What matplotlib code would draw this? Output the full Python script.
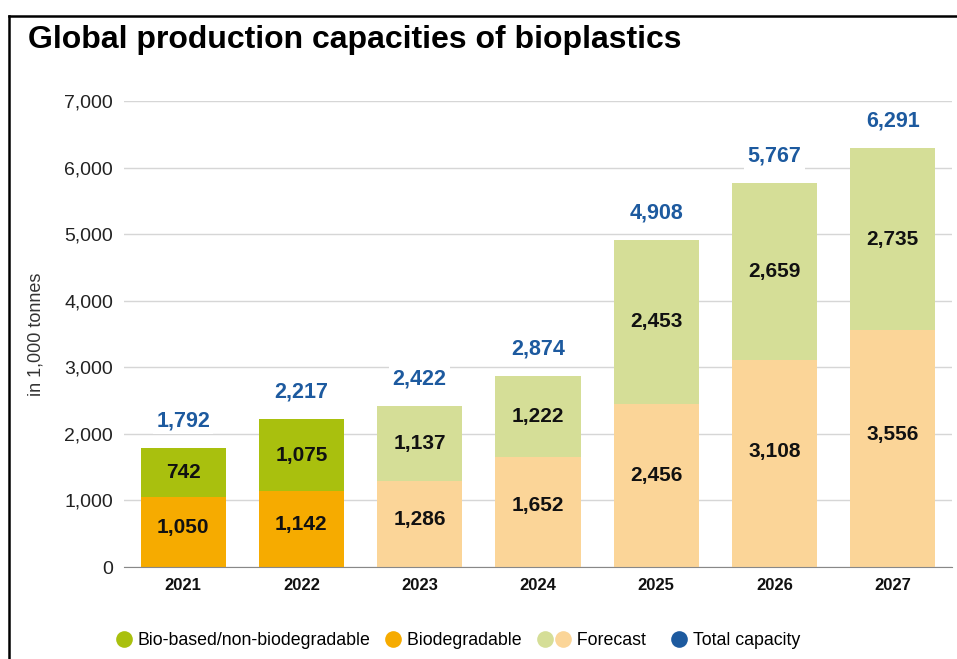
import matplotlib.pyplot as plt
from matplotlib.lines import Line2D
from matplotlib.legend_handler import HandlerTuple

plt.rcParams['font.family'] = ['Liberation Sans', 'DejaVu Sans']

# data (1,000 tonnes)
years = ['2021', '2022', '2023', '2024', '2025', '2026', '2027']
biodegradable = [1050, 1142, 1286, 1652, 2456, 3108, 3556]
biobased = [742, 1075, 1137, 1222, 2453, 2659, 2735]
totals = [1792, 2217, 2422, 2874, 4908, 5767, 6291]
forecast = [False, False, True, True, True, True, True]

c_green = '#a9c00e'
c_orange = '#f6ab00'
c_green_fc = '#d5de97'
c_orange_fc = '#fbd598'
c_blue = '#1d5a9f'

fig = plt.figure(figsize=(9.57, 6.59), dpi=100)
ax = fig.add_axes([0.1296, 0.1396, 0.865, 0.7071])

x = list(range(len(years)))
col_bot = [c_orange_fc if f else c_orange for f in forecast]
col_top = [c_green_fc if f else c_green for f in forecast]

ax.bar(x, biodegradable, width=0.72, color=col_bot, zorder=2)
ax.bar(x, biobased, width=0.72, bottom=biodegradable, color=col_top, zorder=2)

for i in x:
    # lower labels sit a little above the middle of the segment
    ax.text(i, biodegradable[i] * 0.56, f'{biodegradable[i]:,}', ha='center', va='center',
            fontsize=15, fontweight='bold', color='#111111', zorder=3)
    ax.text(i, biodegradable[i] + biobased[i] / 2, f'{biobased[i]:,}', ha='center', va='center',
            fontsize=15, fontweight='bold', color='#111111', zorder=3)
    ax.annotate(f'{totals[i]:,}', (i, totals[i]), xytext=(0, 19.5), textcoords='offset points',
                ha='center', va='center', fontsize=15.5, fontweight='bold', color=c_blue,
                bbox=dict(boxstyle='square,pad=0.15', fc='white', ec='none'), zorder=3)

ax.set_xlim(-0.5, 6.5)
ax.set_ylim(0, 7000)
ax.set_yticks(range(0, 7001, 1000))
ax.set_yticklabels([f'{v:,}' for v in range(0, 7001, 1000)], fontsize=14, color='#222222')
ax.set_xticks(x)
ax.set_xticklabels(years, fontsize=12, fontweight='bold', color='#111111')
ax.tick_params(axis='both', length=0)
ax.tick_params(axis='y', pad=8)
ax.tick_params(axis='x', pad=8)
ax.grid(axis='y', color='#d6d6d6', linewidth=1, zorder=0)
for s in ['top', 'right', 'left']:
    ax.spines[s].set_visible(False)
ax.spines['bottom'].set_color('#888888')
ax.spines['bottom'].set_zorder(4)
ax.set_ylabel('in 1,000 tonnes', fontsize=13, color='#333333', labelpad=14)

fig.text(0.029, 0.94, 'Global production capacities of bioplastics', fontsize=23,
         fontweight='bold', va='center', ha='left')

# legend
def dot(c):
    return Line2D([], [], marker='o', linestyle='none', markersize=12, markerfacecolor=c,
                  markeredgecolor='none')

handles = [dot(c_green), dot(c_orange), (dot(c_green_fc), dot(c_orange_fc)), dot(c_blue)]
labels = ['Bio-based/non-biodegradable', 'Biodegradable  ', '  Forecast  ', 'Total capacity']
fig.legend(handles, labels, loc='center', bbox_to_anchor=(0.478, 0.028), ncol=4,
           frameon=False, fontsize=12.8, handlelength=1.0, handletextpad=0.25,
           columnspacing=0.8, handler_map={tuple: HandlerTuple(ndivide=None, pad=1.1)})

# frame lines top and left
fig.add_artist(Line2D([0.0094, 1.0], [1 - 16 / 659, 1 - 16 / 659], color='black', linewidth=1.8))
fig.add_artist(Line2D([0.0094, 0.0094], [0, 1 - 16 / 659], color='black', linewidth=1.8))

fig.savefig('out.png', dpi=100)
